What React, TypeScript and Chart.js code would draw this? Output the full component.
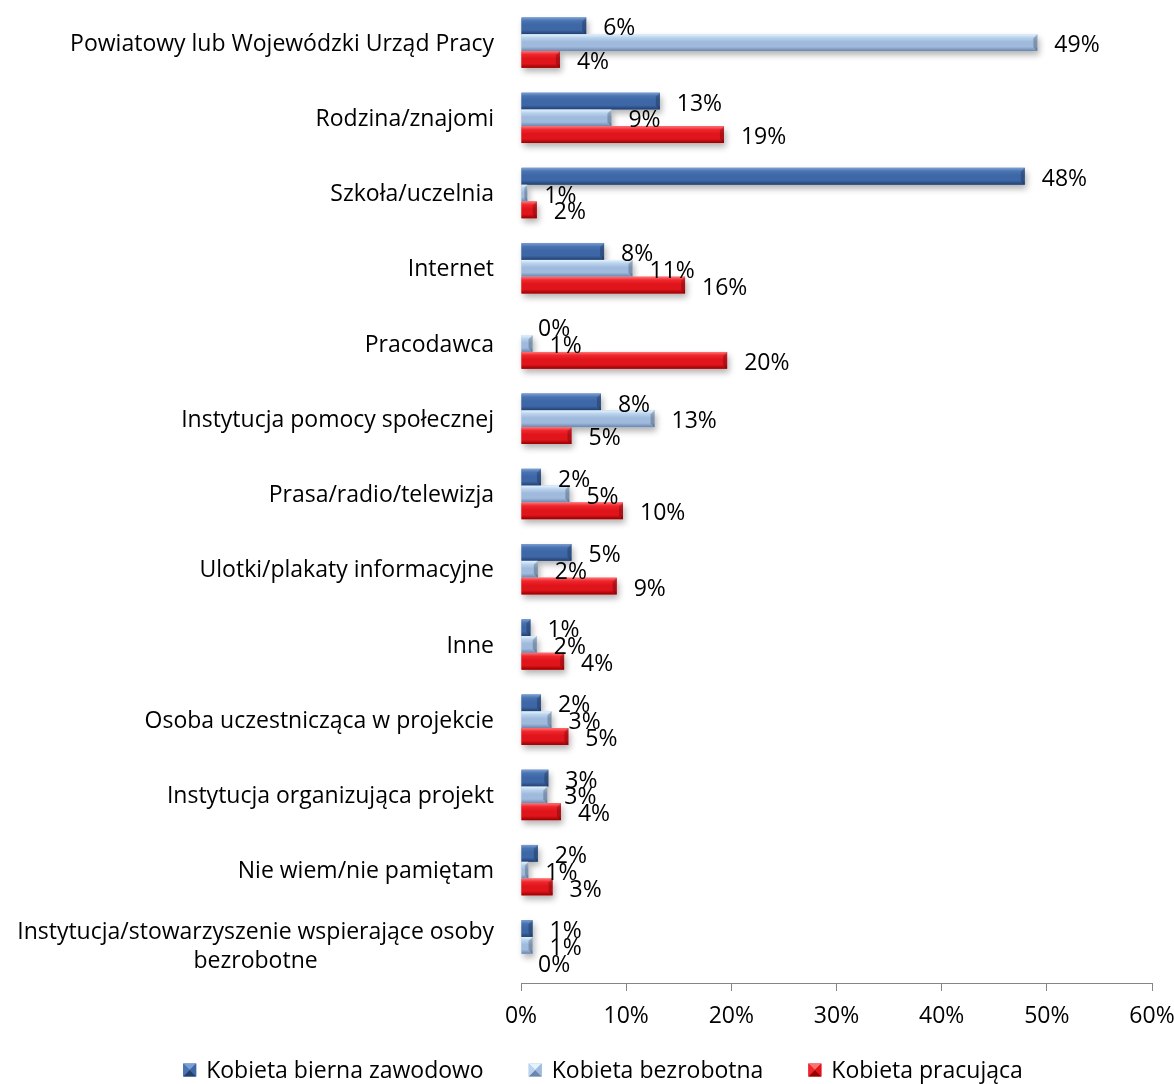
import React, { useEffect, useRef } from "react";
import { Chart, registerables } from "chart.js";

Chart.register(...registerables);

const categories: (string | string[])[] = [
  "Powiatowy lub Wojewódzki Urząd Pracy",
  "Rodzina/znajomi",
  "Szkoła/uczelnia",
  "Internet",
  "Pracodawca",
  "Instytucja pomocy społecznej",
  "Prasa/radio/telewizja",
  "Ulotki/plakaty informacyjne",
  "Inne",
  "Osoba uczestnicząca w projekcie",
  "Instytucja organizująca projekt",
  "Nie wiem/nie pamiętam",
  ["Instytucja/stowarzyszenie wspierające osoby", "bezrobotne"],
];

const seriesNames = ["Kobieta bierna zawodowo", "Kobieta bezrobotna", "Kobieta pracująca"];

const biernaValues = [6.2, 13.2, 47.9, 7.9, 0, 7.6, 1.9, 4.8, 0.9, 1.9, 2.6, 1.6, 1.1];
const bezrobotnaValues = [49.1, 8.6, 0.6, 10.6, 1.1, 12.7, 4.6, 1.6, 1.5, 2.9, 2.5, 0.7, 1.1];
const pracujacaValues = [3.7, 19.3, 1.5, 15.6, 19.6, 4.8, 9.7, 9.1, 4.1, 4.5, 3.8, 3.0, 0];

const xMin = 0;
const xMax = 60;
const xStep = 10;

const FONT = "'Open Sans'";
const FS = 23;

const shades = [
  { top: "#7A9FD4", light: "#4A73B1", mid: "#3D67A6", bot: "#233F6E", base: "#3D67A6" },
  { top: "#E4F4FF", light: "#BAD3EE", mid: "#9FBADC", bot: "#6A86AC", base: "#9FBADC" },
  { top: "#FF7373", light: "#F0262D", mid: "#E0151C", bot: "#950000", base: "#E0151C" },
];

const LABEL_RIGHT = 494;
const LEGEND_CENTER_X = 603;
const LEGEND_Y = 1070;

function drawMarker(ctx: CanvasRenderingContext2D, x: number, y: number, size: number, s: any) {
  const cx = x + size / 2;
  const cy = y + size / 2;
  ctx.fillStyle = s.mid;
  ctx.fillRect(x, y, size, size);
  const tri = (pts: number[][], color: string) => {
    ctx.fillStyle = color;
    ctx.beginPath();
    ctx.moveTo(pts[0][0], pts[0][1]);
    ctx.lineTo(pts[1][0], pts[1][1]);
    ctx.lineTo(pts[2][0], pts[2][1]);
    ctx.closePath();
    ctx.fill();
  };
  tri([[x, y], [x + size, y], [cx, cy]], s.top);
  tri([[x, y + size], [x + size, y + size], [cx, cy]], s.bot);
  tri([[x, y], [x, y + size], [cx, cy]], s.light);
  tri([[x + size, y], [x + size, y + size], [cx, cy]], s.mid);
}

const barPlugin = {
  id: "bevelAndLabels",
  beforeDatasetsDraw(chart: any) {
    const ctx = chart.ctx;
    ctx.save();
    ctx.shadowColor = "rgba(0,0,0,0.30)";
    ctx.shadowBlur = 6;
    ctx.shadowOffsetX = 2;
    ctx.shadowOffsetY = 4;
    chart.data.datasets.forEach((_ds: any, di: number) => {
      const meta = chart.getDatasetMeta(di);
      meta.data.forEach((el: any) => {
        const { x, y, base, height } = el.getProps(["x", "y", "base", "height"], true);
        const left = Math.min(x, base);
        const w = Math.abs(x - base);
        if (w < 0.5) return;
        ctx.fillStyle = "#ffffff";
        ctx.fillRect(left, y - height / 2, w, height);
      });
    });
    ctx.restore();
  },
  afterDatasetsDraw(chart: any) {
    const ctx = chart.ctx;
    ctx.save();
    chart.data.datasets.forEach((_ds: any, di: number) => {
      const meta = chart.getDatasetMeta(di);
      const s = shades[di];
      meta.data.forEach((el: any) => {
        const { x, y, base, height } = el.getProps(["x", "y", "base", "height"], true);
        const left = Math.min(x, base);
        const right = Math.max(x, base);
        const w = right - left;
        if (w < 0.5) return;
        const top = y - height / 2;
        const g = ctx.createLinearGradient(0, top, 0, top + height);
        g.addColorStop(0, s.top);
        g.addColorStop(0.2, s.light);
        g.addColorStop(0.45, s.mid);
        g.addColorStop(0.75, s.mid);
        g.addColorStop(1, s.bot);
        ctx.fillStyle = g;
        ctx.fillRect(left, top, w, height);
        // right-end chamfer
        const c = Math.min(4, w / 2);
        ctx.fillStyle = "rgba(0,0,0,0.22)";
        ctx.beginPath();
        ctx.moveTo(right - c, top + c);
        ctx.lineTo(right, top);
        ctx.lineTo(right, top + height);
        ctx.lineTo(right - c, top + height - c);
        ctx.closePath();
        ctx.fill();
      });
    });
    // data labels
    ctx.font = `${FS}px ${FONT}`;
    ctx.fillStyle = "#000";
    ctx.textAlign = "left";
    ctx.textBaseline = "middle";
    chart.data.datasets.forEach((ds: any, di: number) => {
      const meta = chart.getDatasetMeta(di);
      meta.data.forEach((el: any, i: number) => {
        const { x, y } = el.getProps(["x", "y"], true);
        const v = ds.data[i];
        ctx.fillText(`${Math.round(v)}%`, x + 17, y + 3);
      });
    });
    ctx.restore();
  },
  afterDraw(chart: any) {
    const ctx = chart.ctx;
    const yScale = chart.scales.y;
    ctx.save();
    ctx.font = `${FS}px ${FONT}`;
    ctx.fillStyle = "#000";
    ctx.textAlign = "center";
    ctx.textBaseline = "middle";
    const lh = 29;
    categories.forEach((c, i) => {
      const lines = Array.isArray(c) ? c : [c];
      const w = Math.max(...lines.map((l) => ctx.measureText(l).width));
      const cx = LABEL_RIGHT - w / 2;
      const yc = yScale.getPixelForValue(i);
      lines.forEach((l, j) => {
        ctx.fillText(l, cx, yc + (j - (lines.length - 1) / 2) * lh + 1.5);
      });
    });

    // legend
    const box = 13;
    const boxGap = 10;
    const itemGap = 45;
    const widths = seriesNames.map((n) => ctx.measureText(n).width);
    const total =
      widths.reduce((a, b) => a + b, 0) + seriesNames.length * (box + boxGap) + (seriesNames.length - 1) * itemGap;
    let x = LEGEND_CENTER_X - total / 2;
    ctx.textAlign = "left";
    seriesNames.forEach((n, i) => {
      drawMarker(ctx, x, LEGEND_Y - box / 2, box, shades[i]);
      ctx.fillStyle = "#000";
      ctx.fillText(n, x + box + boxGap, LEGEND_Y + 1.5);
      x += box + boxGap + widths[i] + itemGap;
    });
    ctx.restore();
  },
};

export default function App() {
  const ref = useRef<HTMLCanvasElement>(null);
  useEffect(() => {
    document.body.style.margin = "0";
    const canvas = ref.current!;
    const values = [biernaValues, bezrobotnaValues, pracujacaValues];
    const chart = new Chart(canvas, {
      type: "bar",
      data: {
        labels: categories as any,
        datasets: seriesNames.map((name, di) => ({
          label: name,
          data: values[di],
          backgroundColor: shades[di].base,
          borderWidth: 0,
          categoryPercentage: 0.67,
          barPercentage: 1.0,
        })),
      },
      options: {
        indexAxis: "y",
        responsive: false,
        animation: false,
        layout: { padding: { left: 100, right: 22, top: 5, bottom: 51 } },
        scales: {
          y: {
            display: true,
            ticks: { display: false },
            grid: { display: false },
            border: { display: false },
            afterFit: (s: any) => {
              s.width = 421;
            },
          },
          x: {
            min: xMin,
            max: xMax,
            ticks: {
              stepSize: xStep,
              callback: (v: any) => `${v}%`,
              font: { family: "Open Sans", size: FS },
              color: "#000",
              padding: 12,
              maxRotation: 0,
            },
            grid: {
              drawOnChartArea: false,
              drawTicks: true,
              tickLength: 8,
              color: "#868686",
            },
            border: { color: "#868686", width: 1 },
            afterFit: (s: any) => {
              s.height = 50;
              s.paddingLeft = 0;
              s.paddingRight = 0;
            },
          },
        },
        plugins: {
          legend: { display: false },
          tooltip: { enabled: false },
        },
      } as any,
      plugins: [barPlugin],
    });
    return () => chart.destroy();
  }, []);
  return <canvas ref={ref} width={1174} height={1084} style={{ display: "block" }} />;
}
